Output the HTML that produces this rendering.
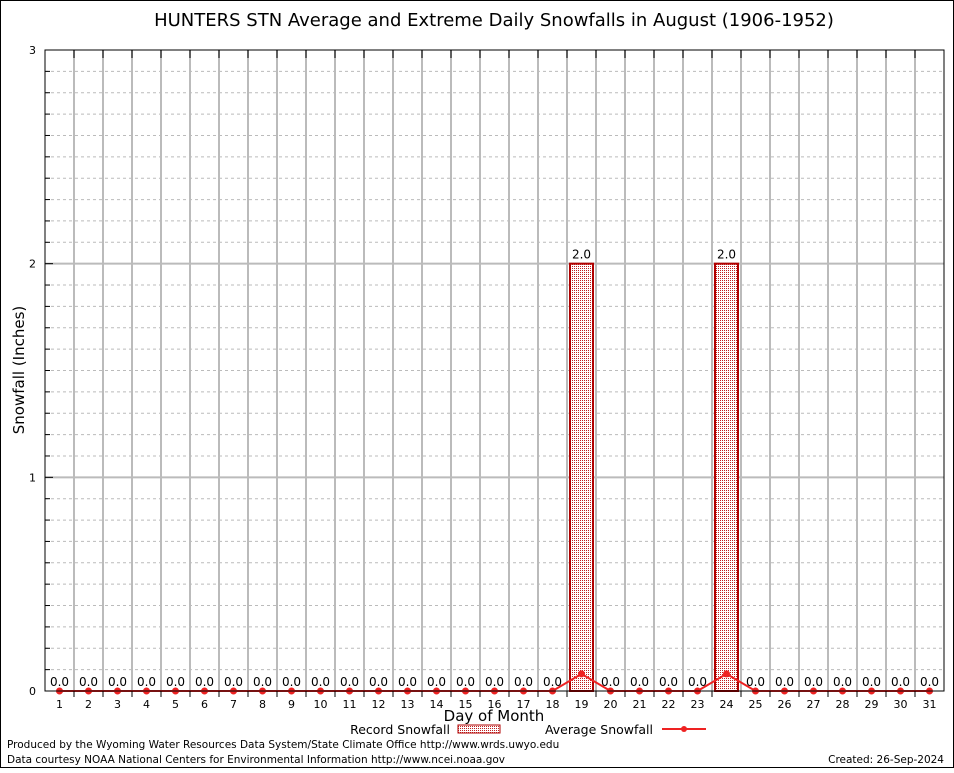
<!DOCTYPE html>
<html><head><meta charset="utf-8"><style>
body{margin:0;background:#fff}
svg text{font-family:"DejaVu Sans","Liberation Sans",sans-serif}
</style></head><body>
<svg id="c" width="954" height="768" xmlns="http://www.w3.org/2000/svg">
<defs>
<pattern id="chk" width="2" height="2" patternUnits="userSpaceOnUse">
<rect width="2" height="2" fill="#fff"/><rect width="1" height="1" fill="#c02020"/>
</pattern>
</defs>
<rect x="0.5" y="0.5" width="953" height="767" fill="#fff" stroke="#000"/>
<text x="494" y="26" font-size="18" text-anchor="middle">HUNTERS STN Average and Extreme Daily Snowfalls in August (1906-1952)</text>
<g id="grid"></g>
<g id="bars"></g>
<g id="line"></g>
<g id="axes"></g>
<text x="24" y="370" font-size="15" text-anchor="middle" transform="rotate(-90 24 370)">Snowfall (Inches)</text>
<text x="494" y="721" font-size="15" text-anchor="middle">Day of Month</text>
<g>
<text x="450" y="734" font-size="12.5" text-anchor="end">Record Snowfall</text>
<rect x="458" y="725" width="42" height="8" fill="url(#chk)" stroke="#b00000"/>
<text x="653" y="734" font-size="12.5" text-anchor="end">Average Snowfall</text>
<line x1="662" y1="729" x2="706" y2="729" stroke="#ee2222" stroke-width="2"/>
<circle cx="684" cy="729" r="3" fill="#ee2222"/>
</g>
<text x="7" y="748" font-size="10.5">Produced by the Wyoming Water Resources Data System/State Climate Office http://www.wrds.uwyo.edu</text>
<text x="7" y="763" font-size="10.5">Data courtesy NOAA National Centers for Environmental Information http://www.ncei.noaa.gov</text>
<text x="944" y="763" font-size="10.5" text-anchor="end">Created: 26-Sep-2024</text>
</svg>
<script>
const days=[1,2,3,4,5,6,7,8,9,10,11,12,13,14,15,16,17,18,19,20,21,22,23,24,25,26,27,28,29,30,31];
const recordSnow=[0,0,0,0,0,0,0,0,0,0,0,0,0,0,0,0,0,0,2.0,0,0,0,0,2.0,0,0,0,0,0,0,0];
const avgSnow=[0,0,0,0,0,0,0,0,0,0,0,0,0,0,0,0,0,0,0.08,0,0,0,0,0.08,0,0,0,0,0,0,0];
const yTicks=[0,1,2,3];
const NS="http://www.w3.org/2000/svg";
const L=45,R=944,T=50,B=691,yMax=3,slot=(R-L)/days.length;
const xs=i=>L+slot*(i+0.5);
const ys=v=>B-(v/yMax)*(B-T);
function mk(p,tag,a){const e=document.createElementNS(NS,tag);for(const k in a)e.setAttribute(k,a[k]);document.getElementById(p).appendChild(e);return e;}
for(let k=1;k<30;k++){if(k%10===0)continue;
 const g=mk('grid','line',{x1:L,x2:R,y1:ys(k/10),y2:ys(k/10),stroke:'#bbb','stroke-dasharray':'3,3'});
 
 
 const t1=mk('axes','line',{x1:L,x2:L+5,y1:ys(k/10),y2:ys(k/10),stroke:'#000'});
 
 }
yTicks.forEach(v=>{
 if(v>0&&v<yMax){const g=mk('grid','line',{x1:L,x2:R,y1:ys(v),y2:ys(v),stroke:'#bbb','stroke-width':2});
 
 }
 const t=mk('axes','text',{x:L-9,y:ys(v)+4,'font-size':11,'text-anchor':'end'});t.textContent=v;
 
 
 const tk=mk('axes','line',{x1:L,x2:L+8,y1:ys(v),y2:ys(v),stroke:'#000'});
 
 
});
for(let i=1;i<days.length;i++){const x=L+slot*i;
 const g=mk('grid','line',{x1:x,x2:x,y1:T,y2:B,stroke:'#bbb','stroke-width':2});
 
 
 const tk=mk('axes','line',{x1:x,x2:x,y1:T,y2:T+8,stroke:'#000'});
 
 
 const tb=mk('axes','line',{x1:x,x2:x,y1:B,y2:B+6,stroke:'#000'});
 
 }
days.forEach((d,i)=>{
 const v=recordSnow[i];
 if(v>0){const b=mk('bars','rect',{x:L+slot*i+3,y:ys(v),width:slot-6,height:B-ys(v),fill:'url(#chk)',stroke:'#b00000','stroke-width':2});
  
  }
 const lb=mk('bars','text',{x:xs(i),y:ys(v)-5,'font-size':12,'text-anchor':'middle'});lb.textContent=v.toFixed(1);
 
 
 const xl=mk('axes','text',{x:xs(i),y:B+17,'font-size':11,'text-anchor':'middle','font-family':'Liberation Serif,serif'});xl.textContent=d;
 
 
});
const pl=mk('line','polyline',{points:avgSnow.map((v,i)=>xs(i)+','+ys(v)).join(' '),fill:'none',stroke:'#ee2222','stroke-width':2});


avgSnow.forEach((v,i)=>{const c=mk('line','circle',{cx:xs(i),cy:ys(v),r:3.5,fill:'#ee2222'});
 
 });
const fr=mk('axes','rect',{x:L,y:T,width:R-L,height:B-T,fill:'none',stroke:'#000'});


</script>
</body></html>
